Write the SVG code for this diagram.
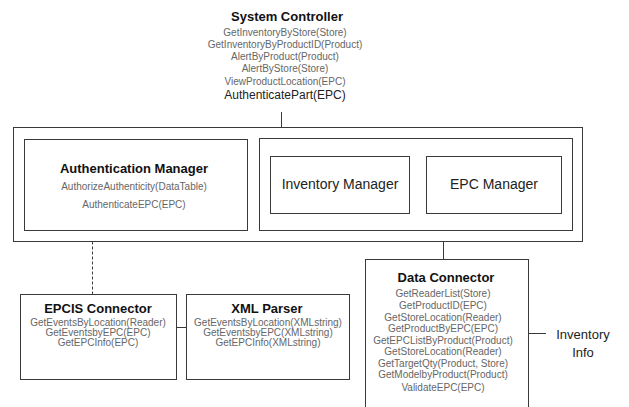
<svg xmlns="http://www.w3.org/2000/svg" width="629" height="407" viewBox="0 0 629 407">
<style>
.box{fill:#fff;stroke:#3a3a3a;stroke-width:1}
.ln{fill:none;stroke:#3a3a3a;stroke-width:1}
.dash{stroke-dasharray:3,2}
.t{font-family:"Liberation Sans",Arial,sans-serif;font-size:13px;font-weight:bold;fill:#111;text-anchor:middle}
.m{font-family:"Liberation Sans",Arial,sans-serif;font-size:10px;fill:#666;text-anchor:middle}
.n{font-family:"Liberation Sans",Arial,sans-serif;font-size:14px;fill:#222;text-anchor:middle}
</style>
<rect width="629" height="407" fill="#fff"/>
<g id="connectors">
<line class="ln" x1="281.5" y1="112" x2="281.5" y2="127.5"/>
<line class="ln" x1="409.5" y1="184.5" x2="426.5" y2="184.5"/>
<line class="ln" x1="443.5" y1="241.5" x2="443.5" y2="259.5"/>
<line class="ln dash" x1="92.5" y1="241.5" x2="92.5" y2="294.5"/>
<line class="ln" x1="176.5" y1="327.5" x2="186.5" y2="327.5"/>
<line class="ln" x1="528.5" y1="333.5" x2="546" y2="333.5"/>
</g>
<g id="system-controller">
<text class="t" x="287" y="21">System Controller</text>
<text class="m" x="285" y="36">GetInventoryByStore(Store)</text>
<text class="m" x="285" y="48">GetInventoryByProductID(Product)</text>
<text class="m" x="285" y="60">AlertByProduct(Product)</text>
<text class="m" x="285" y="72">AlertByStore(Store)</text>
<text class="m" x="285" y="85">ViewProductLocation(EPC)</text>
<text class="m" x="285" y="99" style="font-size:12px;fill:#222">AuthenticatePart(EPC)</text>
</g>
<g id="outer-container">
<rect class="box" x="13.5" y="127.5" width="569" height="114"/>
</g>
<g id="authentication-manager">
<rect class="box" x="24.5" y="139.5" width="223" height="91"/>
<text class="t" x="134" y="173">Authentication Manager</text>
<text class="m" x="134" y="190">AuthorizeAuthenticity(DataTable)</text>
<text class="m" x="134" y="208">AuthenticateEPC(EPC)</text>
</g>
<g id="manager-group">
<rect class="box" x="259.5" y="138.5" width="313" height="92"/>
</g>
<g id="inventory-manager">
<rect class="box" x="270.5" y="156.5" width="139" height="57"/>
<text class="n" x="340" y="189">Inventory Manager</text>
</g>
<g id="epc-manager">
<rect class="box" x="426.5" y="156.5" width="135" height="57"/>
<text class="n" x="494" y="189">EPC Manager</text>
</g>
<g id="epcis-connector">
<rect class="box" x="20.5" y="294.5" width="156" height="85"/>
<text class="t" x="98" y="313">EPCIS Connector</text>
<text class="m" x="98" y="326">GetEventsByLocation(Reader)</text>
<text class="m" x="98" y="336">GetEventsbyEPC(EPC)</text>
<text class="m" x="98" y="346">GetEPCInfo(EPC)</text>
</g>
<g id="xml-parser">
<rect class="box" x="186.5" y="294.5" width="163" height="85"/>
<text class="t" x="267" y="313">XML Parser</text>
<text class="m" x="268" y="326">GetEventsByLocation(XMLstring)</text>
<text class="m" x="268" y="336">GetEventsbyEPC(XMLstring)</text>
<text class="m" x="268" y="346">GetEPCInfo(XMLstring)</text>
</g>
<g id="data-connector">
<rect class="box" x="365.5" y="259.5" width="163" height="148"/>
<text class="t" x="446" y="282">Data Connector</text>
<text class="m" x="443" y="297">GetReaderList(Store)</text>
<text class="m" x="443" y="309">GetProductID(EPC)</text>
<text class="m" x="443" y="321">GetStoreLocation(Reader)</text>
<text class="m" x="443" y="332">GetProductByEPC(EPC)</text>
<text class="m" x="443" y="344">GetEPCListByProduct(Product)</text>
<text class="m" x="443" y="355">GetStoreLocation(Reader)</text>
<text class="m" x="443" y="367">GetTargetQty(Product, Store)</text>
<text class="m" x="443" y="378">GetModelbyProduct(Product)</text>
<text class="m" x="443" y="391">ValidateEPC(EPC)</text>
</g>
<g id="inventory-info">
<text class="n" x="583" y="339" style="font-size:13px">Inventory</text>
<text class="n" x="583" y="357" style="font-size:13px">Info</text>
</g>
</svg>
